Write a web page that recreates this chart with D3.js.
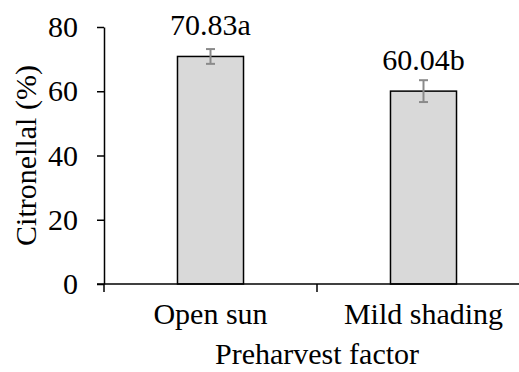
<!DOCTYPE html>
<html>
<head>
<meta charset="utf-8">
<script src="https://cdn.jsdelivr.net/npm/d3@7"></script>
</head>
<body style="margin:0;background:#fff">
<svg id="chart" width="519" height="372"></svg>
<script>
const categories = ["Open sun", "Mild shading"];
const values = [70.83, 60.04];
const errors = [2.3, 3.4];
const letters = ["a", "b"];
const yTicks = [0, 20, 40, 60, 80];
const yTitle = "Citronellal (%)";
const xTitle = "Preharvest factor";

const FONT = '"Liberation Serif"';
const svg = d3.select("#chart");
const fontSize = 30;

const x = d3.scaleBand().domain(categories).range([104, 530]).padding(0);
const y = d3.scaleLinear().domain([0, 80]).range([284, 27]);
const barW = x.bandwidth() * 0.31;

// bars
svg.selectAll("rect.bar").data(categories).join("rect")
  .attr("class", "bar")
  .attr("x", d => x(d) + x.bandwidth() / 2 - barW / 2)
  .attr("y", (d, i) => y(values[i]))
  .attr("width", barW)
  .attr("height", (d, i) => y(0) - y(values[i]))
  .attr("fill", "#d9d9d9")
  .attr("stroke", "#000")
  .attr("stroke-width", 1.5);

// error bars
const eb = svg.append("g").attr("stroke", "#8a8a8a").attr("stroke-width", 2);
categories.forEach((c, i) => {
  const cx = x(c) + x.bandwidth() / 2;
  const top = y(values[i] + errors[i]);
  const bot = y(values[i] - errors[i]);
  eb.append("line").attr("x1", cx).attr("x2", cx).attr("y1", top).attr("y2", bot);
  eb.append("line").attr("x1", cx - 4.5).attr("x2", cx + 4.5).attr("y1", top).attr("y2", top);
  eb.append("line").attr("x1", cx - 4.5).attr("x2", cx + 4.5).attr("y1", bot).attr("y2", bot);
});

function styleText(sel) {
  return sel.attr("font-size", fontSize).attr("fill", "#000").style("font-family", FONT);
}

// value labels
const labels = svg.append("g");
categories.forEach((c, i) => {
  labels.append("text")
    .attr("x", x(c) + x.bandwidth() / 2)
    .attr("y", y(values[i]) - 21)
    .attr("text-anchor", "middle")
    .call(styleText)
    .text(values[i].toFixed(2) + letters[i]);
});

// y axis
const yAxis = d3.axisLeft(y).tickValues(yTicks).tickSize(7).tickSizeOuter(0).tickPadding(19);
const gy = svg.append("g").attr("transform", "translate(104,0)").call(yAxis);
gy.attr("font-family", null).attr("font-size", null);
gy.select(".domain").attr("stroke", "#000").attr("stroke-width", 1.5);
gy.selectAll(".tick line").attr("stroke", "#000").attr("stroke-width", 1.5);
gy.selectAll(".tick text").call(styleText);

// x axis
const bounds = categories.map(c => x(c)).concat([x.range()[1]]);
const gx = svg.append("g");
gx.append("line").attr("x1", 97).attr("x2", x.range()[1]).attr("y1", y(0)).attr("y2", y(0))
  .attr("stroke", "#000").attr("stroke-width", 1.5);
bounds.forEach(b => {
  gx.append("line").attr("x1", b).attr("x2", b).attr("y1", y(0)).attr("y2", y(0) + 8)
    .attr("stroke", "#000").attr("stroke-width", 1.5);
});
categories.forEach(c => {
  gx.append("text")
    .attr("x", x(c) + x.bandwidth() / 2)
    .attr("y", 324)
    .attr("text-anchor", "middle")
    .call(styleText)
    .text(c);
});

// titles
svg.append("text")
  .attr("x", (x.range()[0] + x.range()[1]) / 2)
  .attr("y", 364)
  .attr("text-anchor", "middle")
  .call(styleText)
  .text(xTitle);

svg.append("text")
  .attr("transform", `translate(36,${(y(0) + y(80)) / 2}) rotate(-90)`)
  .attr("text-anchor", "middle")
  .call(styleText)
  .text(yTitle);
</script>
</body>
</html>
